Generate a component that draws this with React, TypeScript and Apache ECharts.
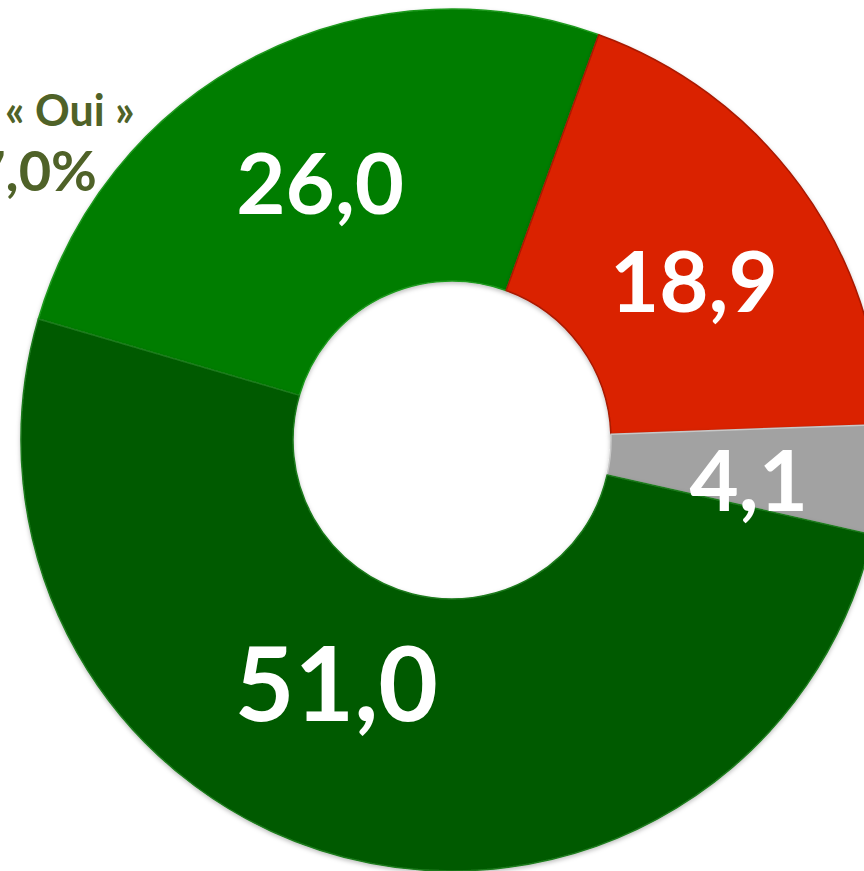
import React, { useEffect, useRef } from 'react';
import * as echarts from 'echarts';

const categories = ['Oui, plutôt', 'Non', 'Ne se prononcent pas', 'Oui, tout à fait'];
const values = [26.0, 18.9, 4.1, 51.0];
const colors = ['#007d00', '#da2100', '#a2a2a2', '#005a00'];
const edgeColors = ['#1f9a1f', '#a81a00', '#c8c8c8', '#1b7a1b'];
const labelSizes = [85, 85, 85, 103];
const labelShift = [[3, 7], [1, 14], [0, 10], [-41, -48]];
const annotationLines = ['« Oui »', '77,0%'];

export default function App() {
  const ref = useRef<HTMLDivElement>(null);
  useEffect(() => {
    const chart = echarts.init(ref.current!, null, { renderer: 'svg' });
    chart.setOption({
      animation: false,
      backgroundColor: '#ffffff',
      series: [
        {
          type: 'pie',
          center: [452, 440],
          radius: [159, 431],
          startAngle: 163.7,
          clockwise: true,
          avoidLabelOverlap: false,
          silent: true,
          label: {
            show: true,
            position: 'inside',
            color: '#ffffff',
            fontFamily: 'Lato',
            fontWeight: 'bold',
            formatter: (p: any) => Number(p.value).toFixed(1).replace('.', ','),
          },
          labelLine: { show: false },
          labelLayout: (params: any) => ({
            dx: labelShift[params.dataIndex][0],
            dy: labelShift[params.dataIndex][1],
          }),
          emphasis: { disabled: true },
          data: values.map((v, i) => ({
            name: categories[i],
            value: v,
            itemStyle: {
              color: colors[i],
              borderColor: edgeColors[i],
              borderWidth: 1.5,
              shadowBlur: 4,
              shadowColor: 'rgba(0,0,0,0.25)',
              shadowOffsetY: 2,
            },
            label: { fontSize: labelSizes[i] },
          })),
        },
      ],
      graphic: [
        {
          type: 'text',
          left: 5,
          top: 88,
          style: {
            text: annotationLines[0],
            font: 'bold 43px Lato',
            fill: '#4f6228',
          },
        },
        {
          type: 'text',
          right: 767,
          top: 141,
          style: {
            text: annotationLines[1],
            font: 'bold 56px Lato',
            fill: '#4f6228',
          },
        },
      ],
    });
    return () => chart.dispose();
  }, []);
  return (
    <div
      ref={ref}
      style={{ position: 'absolute', left: 0, top: 0, width: 864, height: 871 }}
    />
  );
}
